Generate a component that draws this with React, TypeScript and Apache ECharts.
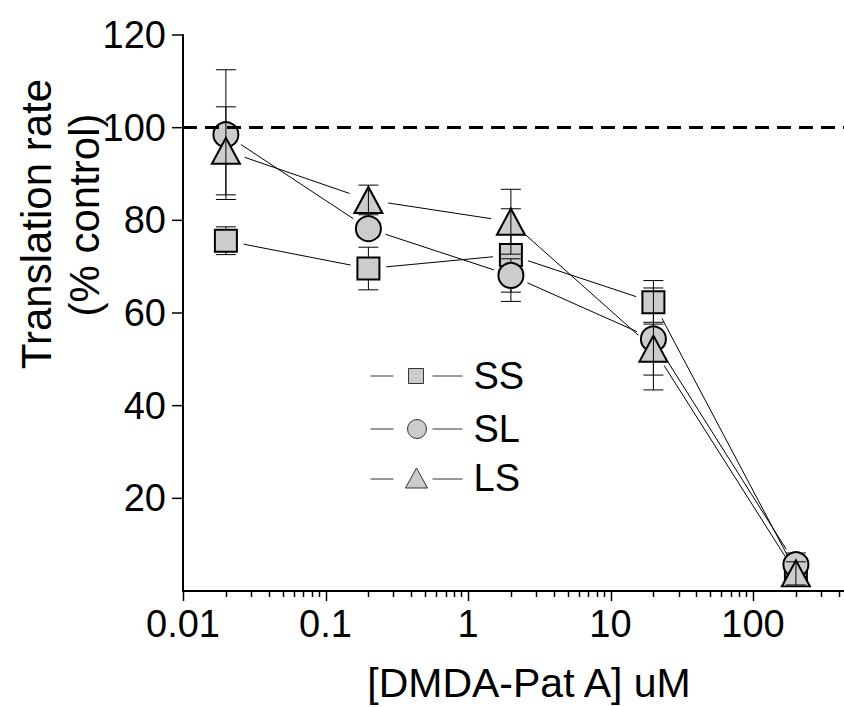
import React, { useEffect, useRef } from "react";
import * as echarts from "echarts";

// Drug concentrations (uM) and translation rate (% of control), mean ± error
const concentrations = [0.02, 0.2, 2, 20, 200];
const ssMean = [75.6, 69.6, 72.5, 62.3, 4.2];
const ssErr = [3.0, 4.6, 10.0, 4.7, 2.0];
const slMean = [98.5, 78.2, 68.1, 54.4, 5.7];
const slErr = [14.0, 1.5, 3.6, 11.0, 2.5];
const lsMean = [95.0, 84.4, 79.7, 52.3, 3.8];
const lsErr = [9.5, 3.2, 7.0, 5.7, 2.5];

const seriesNames = ["SS", "SL", "LS"];

// Axes
const xMin = 0.01;
const xMax = 435;
const xMajorTicks = [0.01, 0.1, 1, 10, 100];
const xTickLabels = ["0.01", "0.1", "1", "10", "100"];
const xMinorMultipliers = [2, 3, 4, 5, 6, 7, 8, 9];
const yTicks = [20, 40, 60, 80, 100, 120];
const controlLevel = 100;

const FONT = "'Liberation Sans', Arial, Helvetica, sans-serif";
const FILL = "#cccccc";

type Pt = number[];

const seriesPoints = (mean: number[]): Pt[] => concentrations.map((c, i) => [c, mean[i]]);
const seriesErrors = (mean: number[], err: number[]): Pt[] =>
  concentrations.map((c, i) => [c, mean[i], err[i]]);
const seriesSegments = (mean: number[]): Pt[] =>
  concentrations.slice(0, -1).map((c, i) => [c, mean[i], concentrations[i + 1], mean[i + 1]]);

const minorTicks = xMajorTicks
  .flatMap((d) => xMinorMultipliers.map((m) => +(d * m).toPrecision(6)))
  .filter((v) => v <= xMax);

function errorBarSeries(name: string, mean: number[], err: number[], z: number) {
  return {
    type: "custom",
    name: name + " error",
    silent: true,
    clip: false,
    z,
    data: seriesErrors(mean, err),
    renderItem: (_p: any, api: any) => {
      const x = api.value(0);
      const y = api.value(1);
      const e = api.value(2);
      const top = api.coord([x, y + e]);
      const bot = api.coord([x, y - e]);
      const hw = 10;
      const st = { stroke: "#000", lineWidth: 1 };
      return {
        type: "group",
        children: [
          { type: "line", shape: { x1: top[0], y1: top[1], x2: bot[0], y2: bot[1] }, style: st },
          { type: "line", shape: { x1: top[0] - hw, y1: top[1], x2: top[0] + hw, y2: top[1] }, style: st },
          { type: "line", shape: { x1: bot[0] - hw, y1: bot[1], x2: bot[0] + hw, y2: bot[1] }, style: st },
        ],
      };
    },
  };
}

// Connecting segments stop short of the symbols on both ends
function connectorSeries(name: string, mean: number[], gap: number) {
  return {
    type: "custom",
    name: name + " line",
    silent: true,
    clip: false,
    z: 1,
    data: seriesSegments(mean),
    encode: { x: [0, 2], y: [1, 3] },
    renderItem: (_p: any, api: any) => {
      const a = api.coord([api.value(0), api.value(1)]);
      const b = api.coord([api.value(2), api.value(3)]);
      const dx = b[0] - a[0];
      const dy = b[1] - a[1];
      const len = Math.sqrt(dx * dx + dy * dy);
      const ux = dx / len;
      const uy = dy / len;
      return {
        type: "line",
        shape: {
          x1: a[0] + ux * gap,
          y1: a[1] + uy * gap,
          x2: b[0] - ux * gap,
          y2: b[1] - uy * gap,
        },
        style: { stroke: "#000", lineWidth: 1 },
      };
    },
  };
}

function markerSeries(name: string, mean: number[], symbol: string, size: any, z: number) {
  return {
    type: "scatter",
    name,
    data: seriesPoints(mean),
    symbol,
    symbolSize: size,
    silent: true,
    z,
    itemStyle: { color: FILL, borderColor: "#000", borderWidth: 2, opacity: 1 },
  };
}

function legendFor(name: string, icon: string, h: number, centerY: number) {
  return {
    data: [name],
    left: 370,
    top: centerY - 19,
    padding: 0,
    itemWidth: 92,
    itemHeight: h,
    icon,
    selectedMode: false,
    itemStyle: { color: FILL, borderColor: "#333", borderWidth: 1 },
    textStyle: {
      fontSize: 38,
      lineHeight: 38,
      color: "#000",
      fontFamily: FONT,
      padding: [0, 0, 0, 6],
    },
  };
}

export default function App() {
  const ref = useRef<HTMLDivElement>(null);

  useEffect(() => {
    if (!ref.current) return;
    const chart = echarts.init(ref.current, undefined, { renderer: "svg" });

    const option: any = {
      animation: false,
      backgroundColor: "#ffffff",
      textStyle: { fontFamily: FONT },
      grid: { left: 183, right: 0, top: 35, bottom: 116 },
      xAxis: {
        type: "log",
        logBase: 10,
        min: xMin,
        max: xMax,
        axisLine: { show: true, lineStyle: { color: "#000", width: 2 } },
        axisTick: { show: false },
        splitLine: { show: false },
        minorTick: { show: false },
        axisLabel: {
          fontSize: 38,
          color: "#000",
          fontFamily: FONT,
          margin: 14,
          showMaxLabel: false,
          formatter: (v: number) => {
            const i = xMajorTicks.findIndex(
              (t) => Math.abs(Math.log10(t) - Math.log10(v)) < 1e-6
            );
            return i >= 0 ? xTickLabels[i] : "";
          },
        },
      },
      yAxis: {
        type: "value",
        min: 0,
        max: 120,
        interval: 20,
        axisLine: { show: true, lineStyle: { color: "#000", width: 2 } },
        axisTick: { show: false },
        splitLine: { show: false },
        axisLabel: {
          fontSize: 38,
          color: "#000",
          fontFamily: FONT,
          margin: 17,
          showMinLabel: false,
        },
      },
      legend: [
        legendFor(
          "SS",
          "path://M0 7.5L23 7.5M38 0L53 0L53 15L38 15ZM62 7.5L92 7.5",
          15,
          376
        ),
        legendFor(
          "SL",
          "path://M0 9.5L23 9.5M56 9.5A9.5 9.5 0 1 1 37 9.5A9.5 9.5 0 1 1 56 9.5ZM62 9.5L92 9.5",
          19,
          429
        ),
        legendFor("LS", "path://M0 11L23 11M46 0L57 20L35 20ZM62 11L92 11", 20, 478),
      ],
      graphic: [
        {
          type: "text",
          x: 529,
          y: 683,
          silent: true,
          style: {
            text: "[DMDA-Pat A] uM",
            fontSize: 41,
            lineHeight: 40,
            fontFamily: FONT,
            fill: "#000",
            align: "center",
            verticalAlign: "middle",
          },
        },
        {
          type: "text",
          x: 36,
          y: 224,
          rotation: Math.PI / 2,
          silent: true,
          style: {
            text: "Translation rate",
            fontSize: 42,
            fontFamily: FONT,
            fill: "#000",
            align: "center",
            verticalAlign: "middle",
          },
        },
        {
          type: "text",
          x: 84,
          y: 215,
          rotation: Math.PI / 2,
          silent: true,
          style: {
            text: "(% control)",
            fontSize: 42,
            fontFamily: FONT,
            fill: "#000",
            align: "center",
            verticalAlign: "middle",
          },
        },
      ],
      series: [
        connectorSeries("SS", ssMean, 18),
        connectorSeries("SL", slMean, 18),
        connectorSeries("LS", lsMean, 20),
        errorBarSeries("SS", ssMean, ssErr, 2),
        markerSeries(seriesNames[0], ssMean, "rect", 22, 2.5),
        errorBarSeries("SL", slMean, slErr, 3),
        markerSeries(seriesNames[1], slMean, "circle", 25, 3.5),
        {
          ...markerSeries(seriesNames[2], lsMean, "triangle", [28, 26], 4),
          markLine: {
            silent: true,
            symbol: "none",
            z: 6,
            label: { show: false },
            lineStyle: { color: "#000", width: 3, type: [14, 8] },
            data: [{ yAxis: controlLevel }],
          },
        },
        errorBarSeries("LS", lsMean, lsErr, 4.5),
        // major and minor ticks on the log axis
        {
          type: "custom",
          name: "x ticks",
          silent: true,
          clip: false,
          z: 7,
          data: [
            ...xMajorTicks.map((v) => [v, 0, 10]),
            ...minorTicks.map((v) => [v, 0, 6]),
          ],
          renderItem: (_p: any, api: any) => {
            const p = api.coord([api.value(0), api.value(1)]);
            const x = Math.round(p[0]) + 0.5;
            return {
              type: "line",
              shape: { x1: x, y1: p[1], x2: x, y2: p[1] + api.value(2) },
              style: { stroke: "#000", lineWidth: 1.5 },
            };
          },
        },
        {
          type: "custom",
          name: "y ticks",
          silent: true,
          clip: false,
          z: 7,
          data: yTicks.map((v) => [xMin, v]),
          renderItem: (_p: any, api: any) => {
            const p = api.coord([api.value(0), api.value(1)]);
            return {
              type: "line",
              shape: { x1: p[0] - 11, y1: p[1], x2: p[0], y2: p[1] },
              style: { stroke: "#000", lineWidth: 1.5 },
            };
          },
        },
      ],
    };

    chart.setOption(option);
    return () => chart.dispose();
  }, []);

  return (
    <div
      ref={ref}
      style={{ position: "fixed", left: 0, top: 0, width: 844, height: 707, background: "#fff" }}
    />
  );
}
